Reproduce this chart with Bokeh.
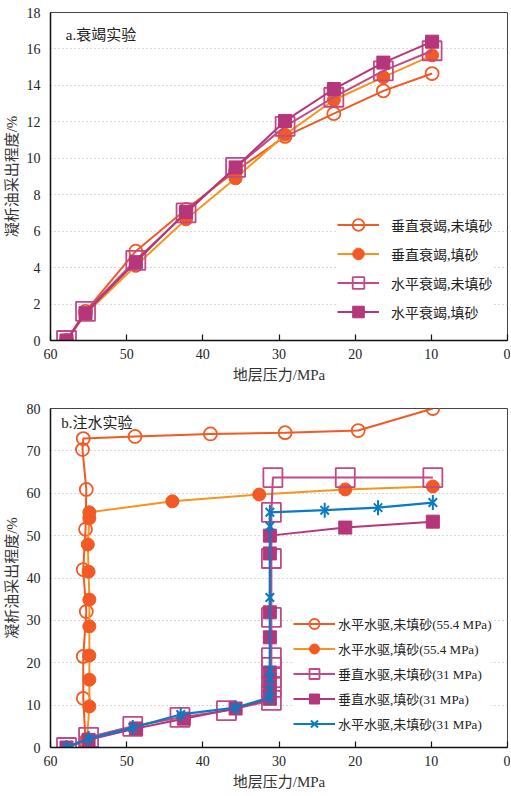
from bokeh.plotting import figure
from bokeh.models import Range1d, FixedTicker, Label
from bokeh.layouts import column
from bokeh.embed import file_html
from bokeh.resources import INLINE

# ---------------- data: a. depletion experiment ----------------
top_pressure = [57.9, 55.4, 48.8, 42.2, 35.7, 29.2, 22.8, 16.3, 9.9]
top_v_unfilled = [0, 1.6, 4.9, 7.2, 9.3, 11.2, 12.45, 13.7, 14.65]
top_v_filled = [0, 1.45, 4.1, 6.65, 8.9, 11.3, 13.2, 14.45, 15.65]
top_h_unfilled = [0, 1.6, 4.4, 7.0, 9.5, 11.75, 13.35, 14.8, 15.9]
top_h_filled = [0, 1.5, 4.3, 7.05, 9.5, 12.05, 13.8, 15.25, 16.4]
top_names = ["垂直衰竭,未填砂", "垂直衰竭,填砂", "水平衰竭,未填砂", "水平衰竭,填砂"]

# ---------------- data: b. water injection experiment ----------------
b1_x = [55.4, 55.7, 55.7, 55.3, 55.7, 55.4, 55.3, 55.8, 55.7, 48.9, 39.0, 29.2, 19.6, 9.8]
b1_y = [1.5, 11.6, 21.5, 32.1, 42.0, 51.5, 60.9, 70.3, 72.9, 73.4, 74.0, 74.3, 74.8, 80.0]
b2_x = [55.2, 54.9, 54.9, 54.9, 54.9, 54.9, 55.0, 55.1, 54.9, 54.9, 44.0, 32.6, 21.3, 9.8]
b2_y = [2.0, 9.7, 16.0, 21.7, 28.6, 34.9, 41.5, 47.9, 54.1, 55.5, 58.1, 59.7, 60.9, 61.6]
b3_x = [57.9, 55.0, 49.2, 43.0, 36.9, 31.0, 31.0, 31.0, 31.0, 31.0, 31.0, 31.0, 31.0, 30.8, 21.3, 9.8]
b3_y = [0, 2.4, 5.0, 7.1, 8.7, 11.1, 14.2, 16.5, 18.9, 21.2, 30.7, 44.6, 55.5, 63.7, 63.7, 63.7]
b4_x = [57.9, 55.0, 48.8, 42.5, 35.7, 31.2, 31.2, 31.2, 31.2, 31.2, 31.2, 31.2, 21.3, 9.8]
b4_y = [0, 1.8, 4.5, 6.8, 9.2, 11.5, 14.6, 17.7, 26.0, 31.9, 45.8, 50.0, 51.9, 53.3]
b5_x = [57.9, 55.0, 49.2, 42.9, 35.7, 31.2, 31.2, 31.2, 31.2, 31.2, 31.2, 31.2, 24.0, 17.0, 9.8]
b5_y = [0, 2.1, 4.7, 7.8, 9.4, 11.8, 13.5, 16.3, 18.2, 35.4, 52.2, 55.5, 56.0, 56.6, 57.8]
bottom_names = ["水平水驱,未填砂(55.4 MPa)", "水平水驱,填砂(55.4 MPa)",
                "垂直水驱,未填砂(31 MPa)", "垂直水驱,填砂(31 MPa)", "水平水驱,未填砂(31 MPa)"]

x_ticks = [0, 10, 20, 30, 40, 50, 60]
top_y_ticks = [0, 2, 4, 6, 8, 10, 12, 14, 16, 18]
bottom_y_ticks = [0, 10, 20, 30, 40, 50, 60, 70, 80]

FONT = "'Liberation Serif', 'Noto Sans CJK SC', serif"
RED = "#F15A24"
ORANGE = "#F7941D"
MAG = "#B5367A"
MAG2 = "#C04A88"
BLUE = "#0A7BC2"


def style(p, yticks, ylabel):
    p.xaxis.ticker = FixedTicker(ticks=x_ticks)
    p.yaxis.ticker = FixedTicker(ticks=yticks)
    p.xaxis.axis_label = "地层压力/MPa"
    p.yaxis.axis_label = ylabel
    for ax in (p.xaxis, p.yaxis):
        ax.axis_line_color = "#111111"
        ax.axis_line_width = 1.5
        ax.minor_tick_line_color = None
        ax.major_label_text_font = FONT
        ax.major_label_text_font_size = "14px"
        ax.major_label_text_color = "#222222"
        ax.axis_label_text_font = FONT
        ax.axis_label_text_font_size = "15px"
        ax.axis_label_text_font_style = "normal"
        ax.axis_label_text_color = "#333333"
    p.yaxis.major_label_standoff = 4
    p.yaxis.axis_label_standoff = 4
    p.xaxis.major_label_standoff = 8
    p.xaxis.axis_label_standoff = 5
    p.xaxis.major_tick_in = 6
    p.xaxis.major_tick_out = 0
    p.xaxis.major_tick_line_color = "#111111"
    p.xaxis.major_tick_line_width = 1.2
    p.yaxis.major_tick_line_color = None
    p.outline_line_color = "#444444"
    p.outline_line_width = 1
    p.xgrid.visible = False
    p.ygrid.grid_line_color = "#b0b0b0"
    p.ygrid.grid_line_dash = "1 3"
    p.ygrid.grid_line_width = 1
    p.background_fill_color = "white"
    p.border_fill_color = "white"


def style_legend(lg, loc, pad, gh, standoff, fs):
    lg.location = loc
    lg.margin = 0
    lg.padding = pad
    lg.spacing = 0
    lg.glyph_width = 42
    lg.glyph_height = gh
    lg.label_standoff = standoff
    lg.label_text_font = FONT
    lg.label_text_font_size = fs
    lg.label_text_color = "#222222"
    lg.background_fill_color = "white"
    lg.background_fill_alpha = 1
    lg.border_line_color = None


# ---------------- top figure ----------------
p1 = figure(width=510, height=390, x_range=Range1d(60, 0), y_range=Range1d(0, 18),
            output_backend="svg", toolbar_location=None,
            min_border_left=47, min_border_right=3, min_border_top=12, min_border_bottom=50)
style(p1, top_y_ticks, "凝析油采出程度/%")

p1.line(top_pressure, top_v_unfilled, color=RED, line_width=2, legend_label=top_names[0])
p1.scatter(top_pressure, top_v_unfilled, marker="circle", size=13, line_color=RED,
           fill_color=None, line_width=1.8, legend_label=top_names[0])
p1.line(top_pressure, top_v_filled, color=ORANGE, line_width=2, legend_label=top_names[1])
p1.scatter(top_pressure, top_v_filled, marker="circle", size=13, line_color=RED,
           fill_color=RED, line_width=1, legend_label=top_names[1])
p1.line(top_pressure, top_h_unfilled, color=MAG2, line_width=2, legend_label=top_names[2])
p1.scatter(top_pressure, top_h_unfilled, marker="square", size=19, line_color=MAG2,
           fill_color=None, line_width=1.8, legend_label=top_names[2])
p1.line(top_pressure, top_h_filled, color=MAG, line_width=2, legend_label=top_names[3])
p1.scatter(top_pressure, top_h_filled, marker="square", size=13, line_color=MAG,
           fill_color=MAG, line_width=1, legend_label=top_names[3])

p1.add_layout(Label(x=58.0, y=16.75, text="a.衰竭实验", text_font=FONT, text_font_size="15px",
                    text_baseline="middle", text_align="left", text_color="#222222"))

style_legend(p1.legend[0], (287, 14), 8, 29, 12, "14px")

# ---------------- bottom figure ----------------
p2 = figure(width=510, height=405, x_range=Range1d(60, 0), y_range=Range1d(0, 80),
            output_backend="svg", toolbar_location=None,
            min_border_left=47, min_border_right=3, min_border_top=18, min_border_bottom=48)
style(p2, bottom_y_ticks, "凝析油采出程度/%")

p2.line(b1_x, b1_y, color=RED, line_width=2, legend_label=bottom_names[0])
p2.scatter(b1_x, b1_y, marker="circle", size=13, line_color=RED, fill_color=None,
           line_width=1.8, legend_label=bottom_names[0])
p2.line(b2_x, b2_y, color=ORANGE, line_width=2, legend_label=bottom_names[1])
p2.scatter(b2_x, b2_y, marker="circle", size=13, line_color=RED, fill_color=RED,
           line_width=1, legend_label=bottom_names[1])
p2.line(b3_x, b3_y, color=MAG2, line_width=2, legend_label=bottom_names[2])
p2.scatter(b3_x, b3_y, marker="square", size=19, line_color=MAG2, fill_color=None,
           line_width=1.8, legend_label=bottom_names[2])
p2.line(b4_x, b4_y, color=MAG, line_width=2, legend_label=bottom_names[3])
p2.scatter(b4_x, b4_y, marker="square", size=13, line_color=MAG, fill_color=MAG,
           line_width=1, legend_label=bottom_names[3])
p2.line(b5_x, b5_y, color=BLUE, line_width=2.2, legend_label=bottom_names[4])
p2.scatter(b5_x, b5_y, marker="x", size=12, line_color=BLUE, line_width=2,
           legend_label=bottom_names[4])
p2.scatter(b5_x, b5_y, marker="dash", size=15, angle=1.5708, line_color=BLUE, line_width=2,
           legend_label=bottom_names[4])

p2.add_layout(Label(x=58.6, y=76.5, text="b.注水实验", text_font=FONT, text_font_size="15px",
                    text_baseline="middle", text_align="left", text_color="#222222"))

style_legend(p2.legend[0], (243, 11), 5, 25, 3, "13px")

layout = column(p1, p2, spacing=0)
open("out.html", "w").write(file_html(layout, INLINE))
